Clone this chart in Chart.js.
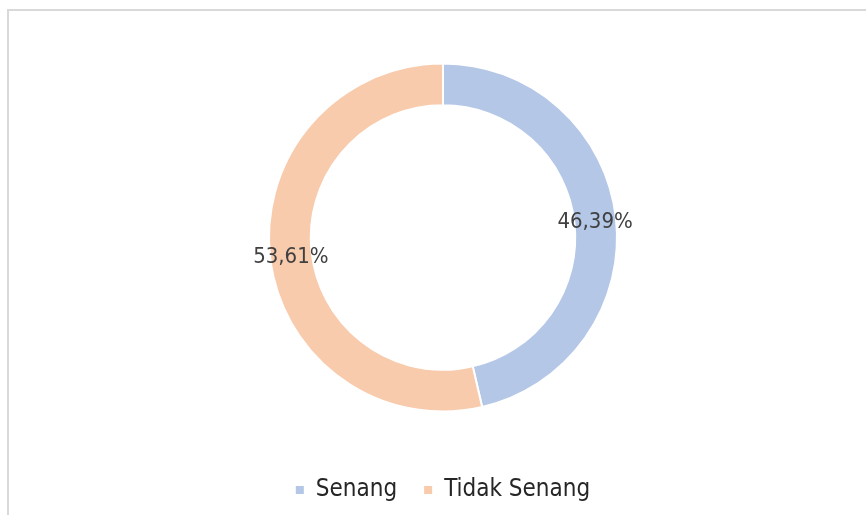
<!DOCTYPE html>
<html>
<head>
<meta charset="utf-8">
<script src="https://cdn.jsdelivr.net/npm/chart.js@4"></script>
<style>
  body { margin: 0; background: #fff; }
  canvas { display: block; }
</style>
</head>
<body>
<canvas id="donutChart" width="866" height="515"></canvas>
<script>
const categories = ['Senang', 'Tidak Senang'];
const persentase = [46.39, 53.61];
const warna = ['#B4C7E7', '#F8CBAD'];

const fonte = '"DejaVu Sans Condensed", "DejaVu Sans", sans-serif';

// moldura cinza do gráfico
const moldura = {
  id: 'moldura',
  beforeDraw(chart) {
    const ctx = chart.ctx;
    ctx.save();
    ctx.fillStyle = '#fff';
    ctx.fillRect(0, 0, chart.width, chart.height);
    ctx.strokeStyle = '#d9d9d9';
    ctx.lineWidth = 2;
    ctx.strokeRect(8, 10, 1000, 1000);
    ctx.restore();
  }
};

// rótulos de porcentagem no meio do anel
const rotulos = {
  id: 'rotulos',
  afterDatasetsDraw(chart) {
    const ctx = chart.ctx;
    const meta = chart.getDatasetMeta(0);
    ctx.save();
    ctx.font = '22px ' + fonte;
    ctx.fillStyle = '#404040';
    ctx.textAlign = 'center';
    ctx.textBaseline = 'middle';
    meta.data.forEach((arc, i) => {
      const pos = arc.tooltipPosition();
      const txt = persentase[i].toFixed(2).replace('.', ',') + '%';
      ctx.fillText(txt, pos.x, pos.y + 2);
    });
    ctx.restore();
  }
};

function gerarGrafico() {
  const ctx = document.getElementById('donutChart').getContext('2d');
  new Chart(ctx, {
    type: 'doughnut',
    data: {
      labels: categories,
      datasets: [{
        data: persentase,
        backgroundColor: warna,
        borderColor: '#fff',
        borderWidth: 2
      }]
    },
    options: {
      responsive: false,
      animation: false,
      radius: 174,
      cutout: '76%',
      layout: { padding: { top: 24, bottom: 3, left: 20, right: 0 } },
      plugins: {
        tooltip: { enabled: false },
        legend: {
          position: 'bottom',
          labels: {
            boxWidth: 8,
            boxHeight: 8,
            padding: 27,
            color: '#262626',
            font: { family: fonte, size: 24 },
            generateLabels(chart) {
              const base = Chart.overrides.doughnut.plugins.legend.labels.generateLabels(chart);
              return base.map(item => ({ ...item, lineWidth: 0 }));
            }
          }
        }
      }
    },
    plugins: [moldura, rotulos]
  });
}

document.addEventListener('DOMContentLoaded', gerarGrafico);
</script>
</body>
</html>
